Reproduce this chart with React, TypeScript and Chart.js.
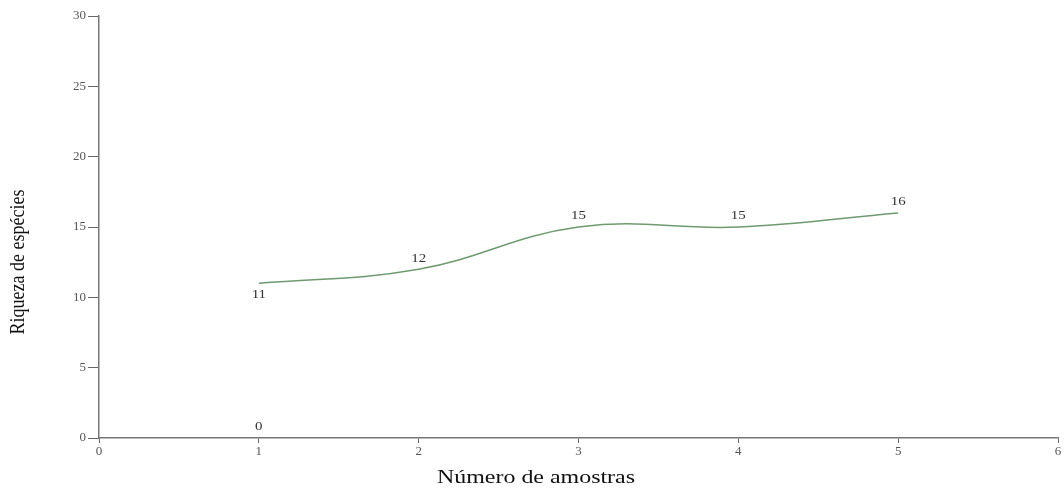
import React, { useEffect, useRef } from "react";
import { Chart, registerables } from "chart.js";

Chart.register(...registerables);

const sampleCounts = [1, 2, 3, 4, 5];
const speciesRichness = [11, 12, 15, 15, 16];
const labelBelow = [true, false, false, false, false];
const zeroMarkerX = [1];
const zeroMarkerY = [0];
const xTitle = "Número de amostras";
const yTitle = "Riqueza de espécies";

const SERIF = "'Liberation Serif', 'Times New Roman', serif";

const labelPlugin = {
  id: "customLabels",
  afterDatasetsDraw(chart: any) {
    const ctx = chart.ctx;
    ctx.save();
    ctx.font = `13px ${SERIF}`;
    ctx.fillStyle = "#333";
    ctx.textAlign = "center";
    chart.data.datasets.forEach((ds: any, di: number) => {
      const meta = chart.getDatasetMeta(di);
      meta.data.forEach((pt: any, i: number) => {
        const v = ds.data[i].y;
        const below = di === 0 && labelBelow[i];
        ctx.textBaseline = "middle";
        ctx.save();
        ctx.translate(pt.x, below ? pt.y + 11 : pt.y - 11);
        ctx.scale(1.15, 1);
        ctx.fillText(String(v), 0, 0);
        ctx.restore();
      });
    });
    ctx.restore();
  },
  afterDraw(chart: any) {
    const ctx = chart.ctx;
    ctx.save();
    ctx.fillStyle = "#111";
    ctx.font = `18px ${SERIF}`;
    ctx.textAlign = "center";
    ctx.textBaseline = "middle";
    const wx = ctx.measureText(xTitle).width;
    ctx.save();
    ctx.translate(536, 478);
    ctx.scale(198 / wx, 1.0);
    ctx.fillText(xTitle, 0, 0);
    ctx.restore();
    const wy = ctx.measureText(yTitle).width;
    ctx.save();
    ctx.translate(19, 262);
    ctx.rotate(-Math.PI / 2);
    ctx.scale(145 / wy, 1.15);
    ctx.fillText(yTitle, 0, 0);
    ctx.restore();
    ctx.restore();
  },
};

export default function App() {
  const ref = useRef<HTMLCanvasElement>(null);
  useEffect(() => {
    if (!ref.current) return;
    const chart = new Chart(ref.current, {
      type: "line",
      data: {
        datasets: [
          {
            data: sampleCounts.map((x, i) => ({ x, y: speciesRichness[i] })),
            borderColor: "#6f9a70",
            borderWidth: 1.5,
            pointRadius: 0,
            tension: 0.4,
            fill: false,
          },
          {
            data: zeroMarkerX.map((x, i) => ({ x, y: zeroMarkerY[i] })),
            showLine: false,
            pointRadius: 0,
            borderColor: "transparent",
          },
        ],
      },
      options: {
        animation: false,
        responsive: false,
        maintainAspectRatio: false,
        layout: { padding: { top: 16, right: 6, left: 0, bottom: 0 } },
        plugins: { legend: { display: false }, tooltip: { enabled: false } },
        scales: {
          x: {
            type: "linear",
            min: 0,
            max: 6,
            ticks: {
              stepSize: 1,
              font: { family: SERIF, size: 13 },
              color: "#555",
              padding: 1,
            },
            grid: {
              drawOnChartArea: false,
              drawTicks: true,
              tickLength: 5,
              color: "#666",
            },
            border: { display: true, color: "#777", width: 1.5 },
            afterFit(scale: any) {
              scale.height = 50;
            },
          },
          y: {
            min: 0,
            max: 30,
            ticks: {
              stepSize: 5,
              font: { family: SERIF, size: 13 },
              color: "#555",
              padding: 2,
            },
            grid: {
              drawOnChartArea: false,
              drawTicks: true,
              tickLength: 11,
              color: "#666",
            },
            border: { display: true, color: "#777", width: 1.5 },
            afterFit(scale: any) {
              scale.width = 99;
            },
          },
        },
      },
      plugins: [labelPlugin],
    });
    return () => chart.destroy();
  }, []);
  return (
    <div style={{ position: "absolute", left: 0, top: 0, width: 1064, height: 488, background: "#fff" }}>
      <canvas ref={ref} width={1064} height={488} style={{ width: 1064, height: 488 }} />
    </div>
  );
}
